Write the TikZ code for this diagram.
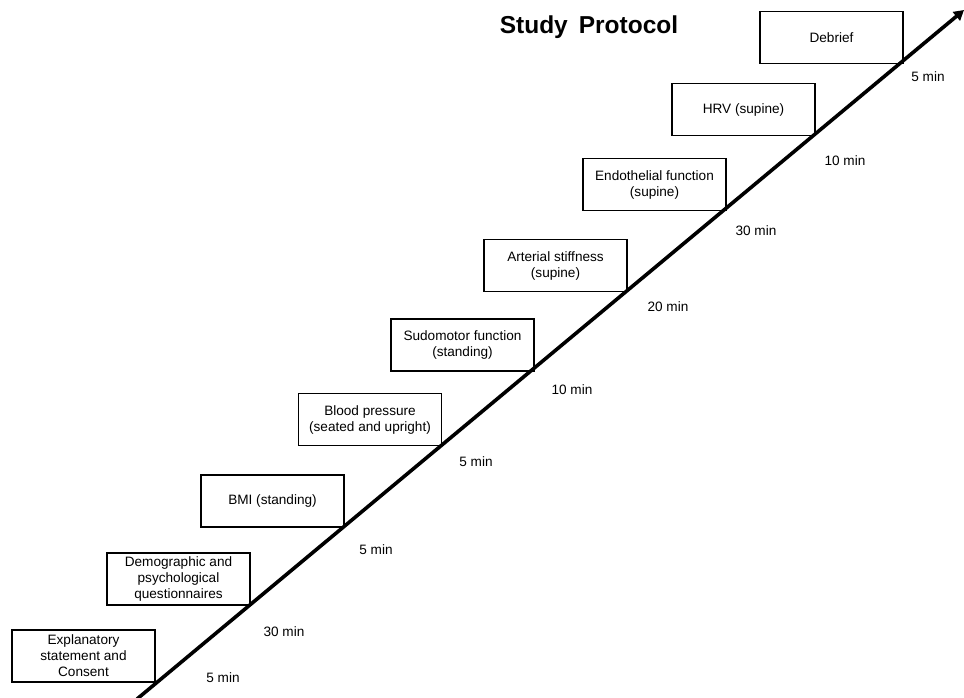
\documentclass[tikz,border=0pt]{standalone}
\usepackage{fontspec}
\setmainfont{Liberation Sans}
\usetikzlibrary{arrows.meta}
\begin{document}
\begin{tikzpicture}[x=1pt,y=-1pt,
  stagebox/.style={draw, line width=1.4pt, minimum width=143pt, minimum height=52pt, inner sep=2pt, align=center, font=\fontsize{13.6}{16}\selectfont},
  durlabel/.style={font=\fontsize{13.6}{16}\selectfont},
  timeline/.style={line width=3.6pt, -{Triangle[length=10pt,width=11pt]}}]
\useasboundingbox (0,0) rectangle (964,697);
\node[font=\bfseries\fontsize{24.5}{28}\selectfont] (title) at (589,27) {Study\hspace{0.45em}Protocol};
\node[stagebox] (b1) at (83.5,656) {Explanatory\\statement and\\Consent};
\node[stagebox] (b2) at (178.5,579) {Demographic and\\psychological\\questionnaires};
\node[stagebox] (b3) at (272.5,501) {BMI (standing)};
\node[stagebox] (b4) at (370,419.5) {Blood pressure\\(seated and upright)};
\node[stagebox] (b5) at (462.5,345) {Sudomotor function\\(standing)};
\node[stagebox] (b6) at (555.5,265.5) {Arterial stiffness\\(supine)};
\node[stagebox] (b7) at (654.5,184.5) {Endothelial function\\(supine)};
\node[stagebox] (b8) at (743.5,109.5) {HRV (supine)};
\node[stagebox] (b9) at (831.5,37.5) {Debrief};
\node[durlabel] (d1) at (223,678) {5 min};
\node[durlabel] (d2) at (284,632) {30 min};
\node[durlabel] (d3) at (376,550) {5 min};
\node[durlabel] (d4) at (476,462) {5 min};
\node[durlabel] (d5) at (572,390) {10 min};
\node[durlabel] (d6) at (668,307) {20 min};
\node[durlabel] (d7) at (756,231) {30 min};
\node[durlabel] (d8) at (845,161) {10 min};
\node[durlabel] (d9) at (928,77) {5 min};
\coordinate (start) at (137,699);
\coordinate (tip) at (964,10);
\draw[timeline] (start) -- (tip);
\end{tikzpicture}
\end{document}
